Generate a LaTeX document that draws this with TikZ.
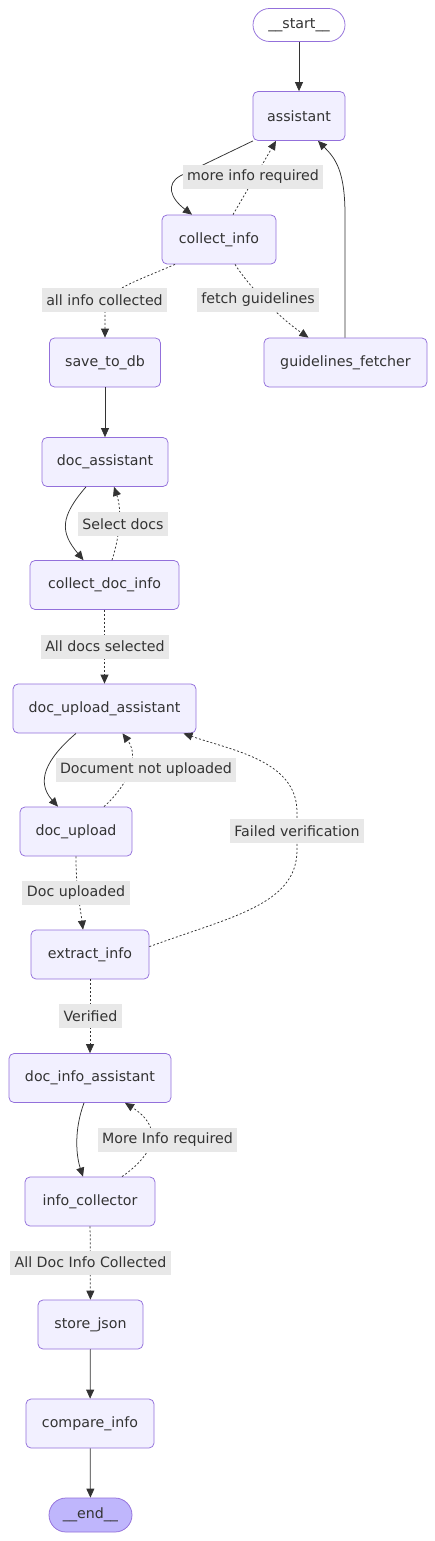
\documentclass[tikz,border=0pt]{standalone}
\usepackage{fontspec}
\setmainfont{DejaVu Sans}
\usetikzlibrary{arrows.meta}
\definecolor{nodefill}{HTML}{F2F0FF}
\definecolor{nodeborder}{HTML}{9370DB}
\definecolor{endfill}{HTML}{BFB6FC}
\definecolor{edgecol}{HTML}{333333}
\definecolor{lblfill}{HTML}{E8E8E8}
\tikzset{
  box/.style={draw=nodeborder, fill=nodefill, line width=0.75pt, rounded corners=5pt,
    minimum height=49pt, inner xsep=8pt, text=edgecol,
    font=\fontsize{14.2}{16}\selectfont},
  pill/.style={draw=nodeborder, line width=0.75pt, rounded corners=16.5pt,
    minimum height=33pt, inner xsep=8pt, text=edgecol,
    font=\fontsize{14.2}{16}\selectfont},
  lbl/.style={fill=lblfill, inner xsep=4.5pt, minimum height=24pt, text=edgecol,
    font=\fontsize{14.2}{16}\selectfont},
  solidedge/.style={draw=edgecol, line width=0.75pt, -{Triangle[length=9pt,width=8pt]}},
  dotedge/.style={draw=edgecol, line width=0.75pt, dash pattern=on 2pt off 2pt,
    -{Triangle[length=9pt,width=8pt]}},
}
\begin{document}
\begin{tikzpicture}[x=1pt,y=-1pt]
\useasboundingbox (0,0) rectangle (435,1541);
\fill[white] (0,0) rectangle (435,1541);
% nodes
\node[pill, fill=white, minimum width=92pt] (start) at (299,25) {\_\_start\_\_};
\node[box, minimum width=92pt] (assistant) at (299,116) {assistant};
\node[box, minimum width=114pt] (collect_info) at (219,239.5) {collect\_info};
\node[box, minimum width=111pt] (save_to_db) at (105,362.5) {save\_to\_db};
\node[box, minimum width=163pt] (guidelines_fetcher) at (345.5,362.5) {guidelines\_fetcher};
\node[box, minimum width=126pt] (doc_assistant) at (105,462) {doc\_assistant};
\node[box, minimum width=149pt] (collect_doc_info) at (104.5,585) {collect\_doc\_info};
\node[box, minimum width=183pt] (doc_upload_assistant) at (104.5,708.5) {doc\_upload\_assistant};
\node[box, minimum width=112pt] (doc_upload) at (76,831.5) {doc\_upload};
\node[box, minimum width=118pt] (extract_info) at (90,954.5) {extract\_info};
\node[box, minimum width=162pt] (doc_info_assistant) at (90,1078) {doc\_info\_assistant};
\node[box, minimum width=130pt] (info_collector) at (90,1201.5) {info\_collector};
\node[box, minimum width=105pt] (store_json) at (90.5,1324.5) {store\_json};
\node[box, minimum width=128pt] (compare_info) at (90,1423.5) {compare\_info};
\node[pill, fill=endfill, minimum width=83pt, minimum height=34pt, rounded corners=17pt] (end) at (90.5,1515) {\_\_end\_\_};
% edges
\draw[solidedge] (start) -- (assistant);
\draw[solidedge] ([xshift=-46pt]assistant.south) -- (180,176)
  .. controls (166,184) and (170,198) .. ([xshift=-27pt]collect_info.north);
\draw[dotedge] ([xshift=14pt]collect_info.north) -- ([xshift=-23pt]assistant.south);
\draw[solidedge] ([xshift=-0.5pt]guidelines_fetcher.north) -- (345,215)
  .. controls (345,170) and (335,158) .. ([xshift=19pt]assistant.south);
\draw[dotedge] ([xshift=16pt]collect_info.south) .. controls (250,288) and (280,318) .. ([xshift=-37pt]guidelines_fetcher.north);
\draw[dotedge] ([xshift=-44pt]collect_info.south) .. controls (130,284) and (105,290) .. (105,312) -- (save_to_db.north);
\draw[solidedge] (save_to_db) -- (doc_assistant);
\draw[solidedge] ([xshift=-19pt]doc_assistant.south) .. controls (60,517) and (60,532) .. ([xshift=-21pt]collect_doc_info.north);
\draw[dotedge] ([xshift=7.5pt]collect_doc_info.north) .. controls (120,535) and (122,510) .. ([xshift=9pt]doc_assistant.south);
\draw[dotedge] (collect_doc_info) -- (doc_upload_assistant);
\draw[solidedge] ([xshift=-28.5pt]doc_upload_assistant.south) .. controls (45,760) and (36,782) .. ([xshift=-18pt]doc_upload.north);
\draw[dotedge] ([xshift=28pt]doc_upload.north) .. controls (128,785) and (140,757) .. ([xshift=18pt]doc_upload_assistant.south);
\draw[dotedge] ([yshift=-17pt]extract_info.north east) .. controls (230,917) and (297,905) .. (297,850)
  -- (297,812) .. controls (297,760) and (230,750) .. ([xshift=79pt]doc_upload_assistant.south);
\draw[dotedge] (doc_upload.south) .. controls (76,890) and (80,905) .. ([xshift=-7pt]extract_info.north);
\draw[dotedge] (extract_info) -- (doc_info_assistant);
\draw[solidedge] ([xshift=-6pt]doc_info_assistant.south) .. controls (74,1130) and (76,1155) .. ([xshift=-7pt]info_collector.north);
\draw[dotedge] ([xshift=32pt]info_collector.north) .. controls (160,1150) and (160,1125) .. ([xshift=35pt]doc_info_assistant.south);
\draw[dotedge] (info_collector) -- (store_json);
\draw[solidedge] (store_json) -- (compare_info);
\draw[solidedge] (compare_info) -- (end);
% labels
\node[lbl] (l1) at (253,177) {more info required};
\node[lbl] (l2) at (104.5,300) {all info collected};
\node[lbl] (l3) at (258,300) {fetch guidelines};
\node[lbl] (l4) at (123,524) {Select docs};
\node[lbl] (l5) at (105,646.5) {All docs selected};
\node[lbl] (l6) at (146,769.5) {Document not uploaded};
\node[lbl] (l7) at (297,831) {Failed verification};
\node[lbl] (l8) at (76,892.5) {Doc uploaded};
\node[lbl] (l9) at (90.5,1016) {Verified};
\node[lbl] (l10) at (167.5,1139.5) {More Info required};
\node[lbl] (l11) at (90.5,1262.5) {All Doc Info Collected};
\end{tikzpicture}
\end{document}
